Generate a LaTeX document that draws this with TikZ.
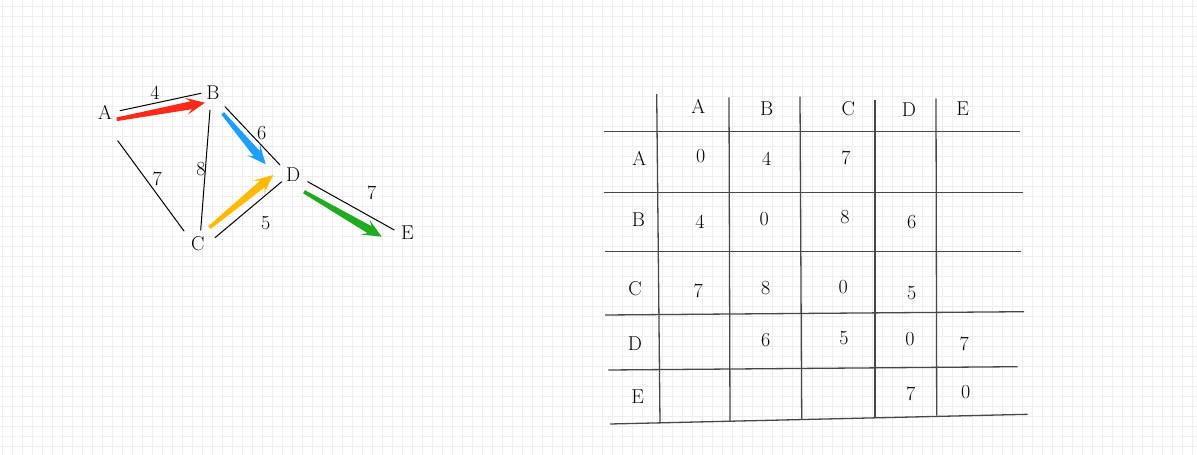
\documentclass[tikz,border=0pt]{standalone}
\usetikzlibrary{calc}
\definecolor{arrowred}{HTML}{FF2A1A}
\definecolor{arrowblue}{HTML}{1E9EFF}
\definecolor{arrowyellow}{HTML}{FFBA00}
\definecolor{arrowgreen}{HTML}{1FAA1F}
\definecolor{gridgray}{HTML}{EEEEEE}
\begin{document}
\begin{tikzpicture}[x=1pt,y=-1pt,
  lbl/.style={font=\fontsize{20}{22}\selectfont,inner sep=0pt},
  edge/.style={line width=1pt,line cap=round},
  rule/.style={line width=1.3pt,black!72}]
  \useasboundingbox (0,0) rectangle (1197,455);
  \fill[white] (0,0) rectangle (1197,455);
  % background grid
  \foreach \x in {2.5,12.5,...,1197} \draw[gridgray,line width=1pt] (\x,0) -- (\x,455);
  \foreach \y in {6,16,...,455} \draw[gridgray,line width=1pt] (0,\y) -- (1197,\y);
  % graph
  \node[lbl] (A) at (105,112.3) {A};
  \node[lbl] (B) at (213,92.8) {B};
  \node[lbl] (C) at (197.7,243.3) {C};
  \node[lbl] (D) at (293.3,175) {D};
  \node[lbl] (E) at (407.3,232.7) {E};
  \draw[edge] ($(A)+(15,-1.6)$) -- ($(B)+(-12,0.5)$);
  \draw[edge] ($(A)+(12.7,28.4)$) -- ($(C)+(-13.7,-12.3)$);
  \draw[edge] ($(B)+(-3,17.2)$) -- ($(C)+(3,-13.3)$);
  \draw[edge] ($(B)+(12,13.9)$) -- ($(D)+(-13.3,-10)$);
  \draw[edge] ($(C)+(17.3,-5.6)$) -- ($(D)+(-11.6,6.7)$);
  \draw[edge] ($(D)+(14.4,6.7)$) -- ($(E)+(-13,-2.7)$);
  \node[lbl] (wAB) at (155,92.7) {4};
  \node[lbl] (wBD) at (261.7,132.7) {6};
  \node[lbl] (wBC) at (201,169) {8};
  \node[lbl] (wAC) at (157.3,179) {7};
  \node[lbl] (wCD) at (265.7,223.3) {5};
  \node[lbl] (wDE) at (371.7,192.7) {7};
  % coloured arrows
  \foreach \f/\fx/\fy/\t/\tx/\ty/\col in {A/11.7/7/B/-8/9.9/arrowred,
      B/9.7/20.5/D/-27.6/-10.7/arrowblue,
      C/11.6/-15.6/D/-20/0/arrowyellow,
      D/10.7/16.7/E/-25.6/4/arrowgreen} {
    \coordinate (tail) at ($(\f)+(\fx,\fy)$);
    \coordinate (tip) at ($(\t)+(\tx,\ty)$);
    \fill[\col] ($(tail)!1.8pt!90:(tip)$) -- ($(tip)!14pt!(tail)!4pt!90:(tip)$)
      -- ($(tip)!19pt!(tail)!8.5pt!90:(tip)$) -- (tip)
      -- ($(tip)!19pt!(tail)!8.5pt!-90:(tip)$) -- ($(tip)!14pt!(tail)!4pt!-90:(tip)$)
      -- ($(tail)!1.8pt!-90:(tip)$) -- cycle;
  }
  % adjacency table
  \draw[rule] (604,131.7) -- (1020,131.7);
  \draw[rule] (604,192.7) -- (1022.7,192.7);
  \draw[rule] (605,251.7) -- (1021,251.7);
  \draw[rule] (605,315) -- (1024,311.7);
  \draw[rule] (608.3,370) -- (1017.7,366.7);
  \draw[rule] (610,424) -- (1027.7,414.3);
  \draw[rule] (656.7,94) -- (660,423.3);
  \draw[rule] (729,97.3) -- (730,421.7);
  \draw[rule] (800,96.7) -- (801.7,419.3);
  \draw[rule] (875,100) -- (875,417.7);
  \draw[rule] (936,98.3) -- (936.7,415.7);
  \foreach \n/\x/\y in {A/698.3/106,B/766.7/108.3,C/848.3/108.3,D/909/110,E/962.7/108.3}
    \node[lbl] (col\n) at (\x,\y) {\n};
  \foreach \n/\x/\y in {A/639.3/158.3,B/638.3/219.3,C/635/288.3,D/635/343.3,E/637.7/396.7}
    \node[lbl] (row\n) at (\x,\y) {\n};
  \foreach \r/\c/\v/\x/\y in {A/A/0/700.7/156,A/B/4/766.7/159.3,A/C/7/846/158.3,
      B/A/4/700/221.7,B/B/0/764.3/219.3,B/C/8/845/217.3,B/D/6/911.7/221.7,
      C/A/7/698.3/290.7,C/B/8/765.7/288.3,C/C/0/843.3/286.7,C/D/5/911.7/292.7,
      D/B/6/765.7/340,D/C/5/844/338.3,D/D/0/910/339.3,D/E/7/964.3/344,
      E/D/7/910.7/394,E/E/0/965.7/391.7}
    \node[lbl] (m\r\c) at (\x,\y) {\v};
\end{tikzpicture}
\end{document}
